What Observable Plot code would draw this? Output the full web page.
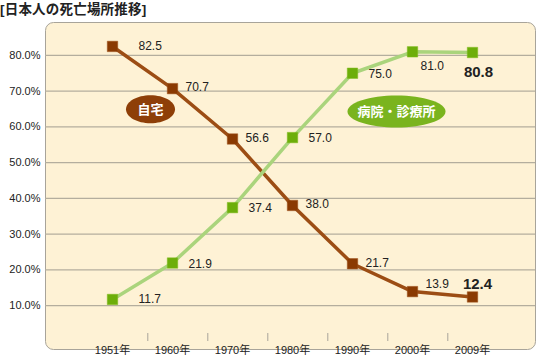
<!DOCTYPE html>
<html><head><meta charset="utf-8">
<script src="https://cdn.jsdelivr.net/npm/d3@7"></script>
<script src="https://cdn.jsdelivr.net/npm/@observablehq/plot@0.6"></script>
<style>
body{margin:0;background:#fff;}
#wrap{position:relative;width:537px;height:358px;overflow:hidden;}
#title{position:absolute;left:0;top:0;font:bold 13.5px "Liberation Sans","Noto Sans CJK JP",sans-serif;color:#222;line-height:19px;letter-spacing:0.2px;}
svg{position:absolute;left:0;top:0;}
</style></head>
<body><div id="wrap"><div id="title">[日本人の死亡場所推移]</div></div>
<script>
const years = ["1951年","1960年","1970年","1980年","1990年","2000年","2009年"];
const home = [82.5, 70.7, 56.6, 38.0, 21.7, 13.9, 12.4];
const hospital = [11.7, 21.9, 37.4, 57.0, 75.0, 81.0, 80.8];
const yTicks = [10, 20, 30, 40, 50, 60, 70, 80];
const seriesNames = ["自宅", "病院・診療所"];

const homeData = years.map((y, i) => ({year: y, v: home[i], i}));
const hospData = years.map((y, i) => ({year: y, v: hospital[i], i}));

function ellipse(rx, ry) {
  const k = 0.5523;
  return {draw(ctx) {
    ctx.moveTo(rx, 0);
    ctx.bezierCurveTo(rx, ry * k, rx * k, ry, 0, ry);
    ctx.bezierCurveTo(-rx * k, ry, -rx, ry * k, -rx, 0);
    ctx.bezierCurveTo(-rx, -ry * k, -rx * k, -ry, 0, -ry);
    ctx.bezierCurveTo(rx * k, -ry, rx, -ry * k, rx, 0);
    ctx.closePath();
  }};
}

const BROWN_LINE = "#9C4D14", BROWN_MK = "#8A3A02";
const GREEN_LINE = "#AAD47C", GREEN_MK = "#6DAE0A";
const F = "'Liberation Sans','Noto Sans CJK JP',sans-serif";

const txt = (data, o) => Plot.text(data, {x: "year", y: "v", text: d => d.v.toFixed(1), fill: "#222", fontSize: 12, textAnchor: "start", ...o});

const chart = Plot.plot({
  width: 537, height: 358,
  marginLeft: 45, marginRight: 2, marginTop: 22, marginBottom: 9,
  style: {fontFamily: F, fontSize: "11px", color: "#222", background: "transparent"},
  x: {type: "point", domain: years, range: [80, 503], label: null, axis: null},
  y: {domain: [-2.3, 89.2], ticks: yTicks, tickFormat: d => d.toFixed(1) + "%", label: null, tickSize: 0, tickPadding: 5},
  marks: [
    Plot.frame({fill: "#FEF2D5", stroke: "#A8A49A", rx: 8, ry: 8}),
    Plot.ruleY(yTicks, {stroke: "#B4AE9E", strokeWidth: 1.2}),
    Plot.ruleX(years.slice(0, -1), {x: d => d, dx: 35.3, insetTop: 311, insetBottom: 8, stroke: "#A8A49A"}),
    Plot.text(years, {x: d => d, frameAnchor: "bottom", dy: 4.5, fill: "#222", fontSize: 11}),
    Plot.line(homeData, {x: "year", y: "v", stroke: BROWN_LINE, strokeWidth: 3.5}),
    Plot.line(hospData, {x: "year", y: "v", stroke: GREEN_LINE, strokeWidth: 3.5}),
    Plot.dot(homeData, {x: "year", y: "v", symbol: "square", r: 5.9, fill: BROWN_MK, stroke: "#A0551E", strokeWidth: 0.5}),
    Plot.dot(hospData, {x: "year", y: "v", symbol: "square", r: 5.9, fill: GREEN_MK, stroke: "#80BC20", strokeWidth: 0.5}),
    // value labels
    txt(homeData.filter(d => d.i === 0), {dx: 26}),
    txt(homeData.filter(d => d.i > 0 && d.i < 5), {dx: 13, dy: -1}),
    txt(homeData.filter(d => d.i === 5), {dx: 13, dy: -7}),
    Plot.text(homeData.filter(d => d.i === 6), {x: "year", y: "v", text: d => d.v.toFixed(1), fill: "#222", fontSize: 15, fontWeight: "bold", dx: 5, dy: -13}),
    txt(hospData.filter(d => d.i === 0), {dx: 26}),
    txt(hospData.filter(d => d.i > 0 && d.i < 5), {dx: 16, dy: 1}),
    txt(hospData.filter(d => d.i === 5), {dx: 8, dy: 14}),
    Plot.text(hospData.filter(d => d.i === 6), {x: "year", y: "v", text: d => d.v.toFixed(1), fill: "#222", fontSize: 15, fontWeight: "bold", dx: 6, dy: 20}),
    // series badges
    Plot.dot([{year: years[0], v: 64.9}], {x: "year", y: "v", dx: 38, symbol: ellipse(24.5, 14), r: 1, fill: "#8E3F08"}),
    Plot.text([{year: years[0], v: 64.9}], {x: "year", y: "v", dx: 38, text: () => seriesNames[0], fill: "#fff", fontSize: 13, fontWeight: "bold"}),
    Plot.dot([{year: years[4], v: 64.3}], {x: "year", y: "v", dx: 44, symbol: ellipse(49, 16), r: 1, fill: "#7AB41E"}),
    Plot.text([{year: years[4], v: 64.3}], {x: "year", y: "v", dx: 44, text: () => seriesNames[1], fill: "#fff", fontSize: 13, fontWeight: "bold"})
  ]
});
document.getElementById("wrap").insertBefore(chart, document.getElementById("title"));
</script>
</body></html>
